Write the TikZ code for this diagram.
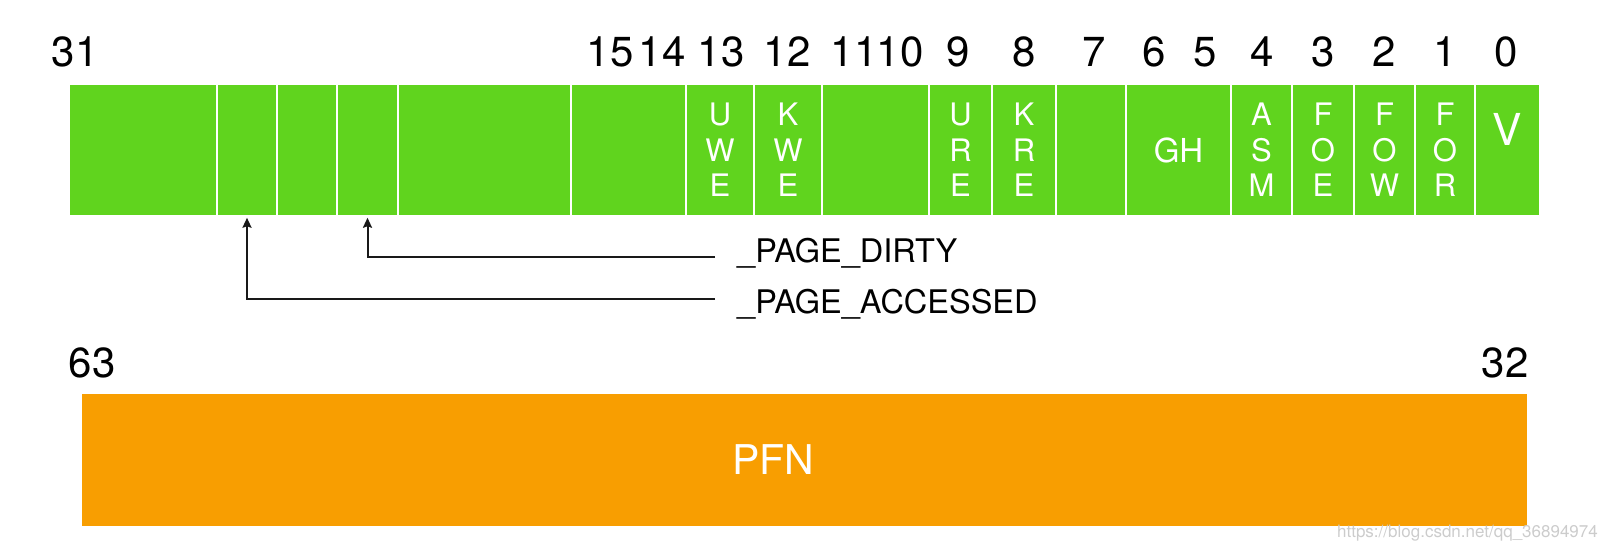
\documentclass[tikz,border=0pt]{standalone}
\usepackage{fontspec}
\setmainfont{TeX Gyre Heros}
\usetikzlibrary{arrows.meta}
\definecolor{pteGreen}{RGB}{96,212,30}
\definecolor{pteOrange}{RGB}{248,158,1}

\begin{document}
\begin{tikzpicture}[x=1pt,y=-1pt,
  bitnum/.style={font=\fontsize{42}{42}\selectfont, inner sep=0pt},
  cell/.style={draw=white, line width=2.5pt, fill=pteGreen, inner sep=0pt, minimum height=133pt, text=white, align=center, font=\fontsize{31}{35.5}\selectfont},
  flag/.style={font=\fontsize{32.5}{32.5}\selectfont, inner sep=0pt, anchor=base west},
  ptr/.style={line width=2pt, draw=black!90, -{Stealth[length=10pt,width=9pt,inset=1.5pt]}}]
\useasboundingbox (0,0) rectangle (1608,552);
% lower 32 bits
\foreach \l/\r/\t [count=\i] in {69/217/{}, 217/277/{}, 277/337/{}, 337/398/{}, 398/571/{}, 571/686/{},
    686/754/{U\\W\\E}, 754/822/{K\\W\\E}, 822/929/{}, 929/992/{U\\R\\E}, 992/1056/{K\\R\\E},
    1056/1126/{}, 1126/1231/{\fontsize{33}{33}\selectfont GH}, 1231/1292/{A\\S\\M}, 1292/1354/{F\\O\\E},
    1354/1415/{F\\O\\W}, 1415/1475/{F\\O\\R}, 1475/1540/{}}
  \node[cell, minimum width={(\r-\l)*1pt}] (b\i) at ({(\l+\r)/2},150) {\t};
\node[text=white, inner sep=0pt, font=\fontsize{44}{44}\selectfont] (vbit) at ([yshift=21pt]b18.center) {V};
\foreach \n/\x in {31/75, 15/610, 14/662, 13/721, 12/787, 11/854, 10/900, 9/958, 8/1024,
    7/1094, 6/1154, 5/1205, 4/1262, 3/1323, 2/1384, 1/1445, 0/1506}
  \node[bitnum] (n\n) at (\x,52) {\n};
% flags
\node[flag] (dirty) at (737,262) {\_PAGE\_DIRTY};
\node[flag] (accessed) at (737,313) {\_PAGE\_ACCESSED};
\coordinate (dirtyend) at (715,257);
\coordinate (accend) at (715,299);
\draw[ptr] (dirtyend) -| (b4.south);
\draw[ptr] (accend) -| (b2.south);
% upper 32 bits
\node[bitnum] (n63) at (92,362.5) {63};
\node[bitnum] (n32) at (1505,362.5) {32};
\node[fill=pteOrange, inner sep=0pt, minimum width=1445.5pt, minimum height=132pt] (pfn) at (804.25,460) {};
\node[text=white, inner sep=0pt, font=\fontsize{41}{41}\selectfont] (pfnlbl) at (773,460) {PFN};
\node[anchor=east, text=black!20, inner sep=0pt, font=\fontsize{17}{17}\selectfont] (wm) at (1598,533) {https://blog.csdn.net/qq\_36894974};
\end{tikzpicture}
\end{document}
